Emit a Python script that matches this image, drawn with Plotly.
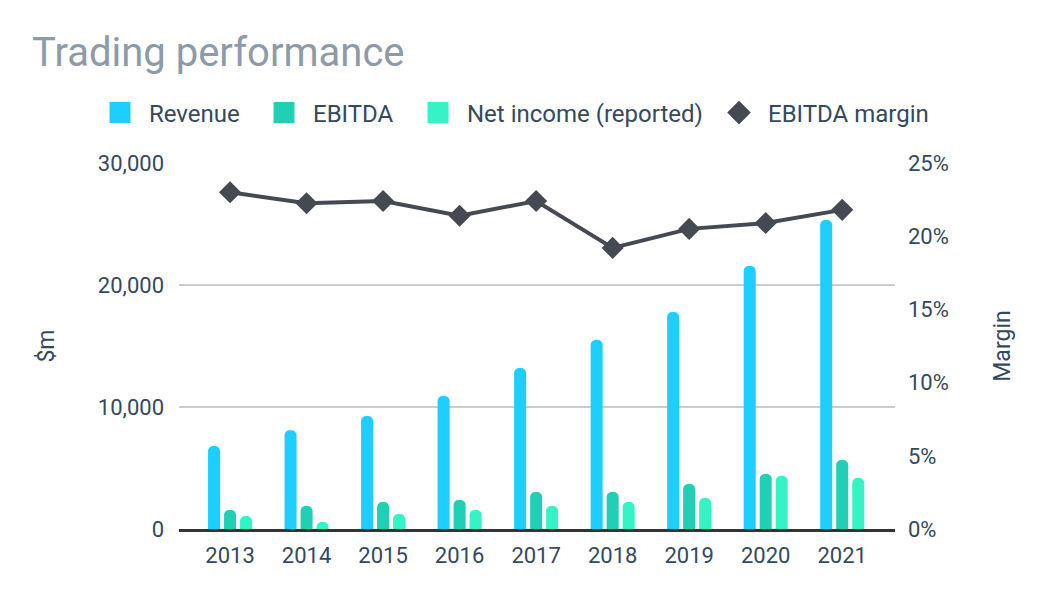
import plotly.graph_objects as go

years = ["2013", "2014", "2015", "2016", "2017", "2018", "2019", "2020", "2021"]
revenue = [6800, 8100, 9260, 10900, 13200, 15490, 17790, 21560, 25330]
ebitda = [1560, 1890, 2210, 2380, 3030, 3030, 3690, 4510, 5660]
net_income = [1070, 570, 1230, 1560, 1890, 2210, 2540, 4340, 4180]
ebitda_margin = [0.230, 0.2225, 0.224, 0.214, 0.224, 0.192, 0.205, 0.209, 0.218]

C_REV = "#1ecefe"
C_EBITDA = "#21cfb4"
C_NI = "#34f4c6"
C_LINE = "#454a52"
TXT = "#34495e"
FONT = "Roboto"

fig = go.Figure()
for name, vals, col in [("Revenue", revenue, C_REV), ("EBITDA", ebitda, C_EBITDA),
                        ("Net income (reported)", net_income, C_NI)]:
    fig.add_trace(go.Bar(x=years, y=vals, name=name, marker=dict(color=col, line=dict(width=0)),
                         showlegend=False, yaxis="y"))

fig.add_trace(go.Scatter(x=years, y=ebitda_margin, name="EBITDA margin", mode="lines+markers",
                         line=dict(color=C_LINE, width=4),
                         marker=dict(symbol="diamond", size=17, color=C_LINE),
                         showlegend=False, yaxis="y2"))

# legend entries, one legend per entry so each can be placed like the reference
legend_items = [("Revenue", C_REV, "square", 5, "legend", 91),
                ("EBITDA", C_EBITDA, "square", 5, "legend2", 255),
                ("Net income (reported)", C_NI, "square", 5, "legend3", 409),
                ("EBITDA margin", C_LINE, "diamond", 2, "legend4", 710)]
legend_layouts = {}
for name, col, sym, lw, lg, px in legend_items:
    fig.add_trace(go.Scatter(x=[None], y=[None], name=name, mode="markers",
                             marker=dict(symbol=sym, size=16, color=col,
                                         line=dict(color=col, width=lw)),
                             showlegend=True, legend=lg))
    legend_layouts[lg] = dict(orientation="h", x=(px - 179) / 716, xanchor="left",
                              y=(529 - 113) / 366, yanchor="middle",
                              font=dict(size=24, color=TXT), itemsizing="trace", itemwidth=48,
                              bgcolor="rgba(0,0,0,0)")

fig.update_layout(
    width=1046, height=600,
    paper_bgcolor="white", plot_bgcolor="white",
    font=dict(family=FONT, color=TXT, size=22),
    margin=dict(l=179, r=151, t=163, b=71),
    barmode="group", bargap=0.3725, bargroupgap=0.25, barcornerradius=5,
    title=dict(text="Trading performance", x=32/1046, xref="container", xanchor="left",
               y=1 - 52/600, yref="container", yanchor="middle",
               font=dict(family=FONT, size=40, color="#8e9aa7")),
    xaxis=dict(range=[-0.667, 8.69], showgrid=False, showline=True, linecolor="#333333",
               linewidth=3, ticks="", tickfont=dict(size=22, color=TXT), ticklabelstandoff=5),
    yaxis=dict(range=[0, 30000], tickvals=[0, 10000, 20000, 30000], tickformat=",",
               showgrid=True, gridcolor="#cccccc", gridwidth=2, zeroline=False,
               ticks="", tickfont=dict(size=22, color=TXT), ticklabelstandoff=14,
               title=dict(text="$m", standoff=36, font=dict(size=23, color=TXT))),
    yaxis2=dict(range=[0, 0.25], dtick=0.05, tickformat=".0%", overlaying="y", side="right",
                showgrid=False, zeroline=False, ticks="", tickfont=dict(size=22, color=TXT),
                ticklabelstandoff=12,
                title=dict(text="Margin", standoff=46, font=dict(size=23, color=TXT))),
    **legend_layouts,
)

fig.write_html("out.html", config={"displayModeBar": False},
               post_script="document.body.style.margin='0px';")
